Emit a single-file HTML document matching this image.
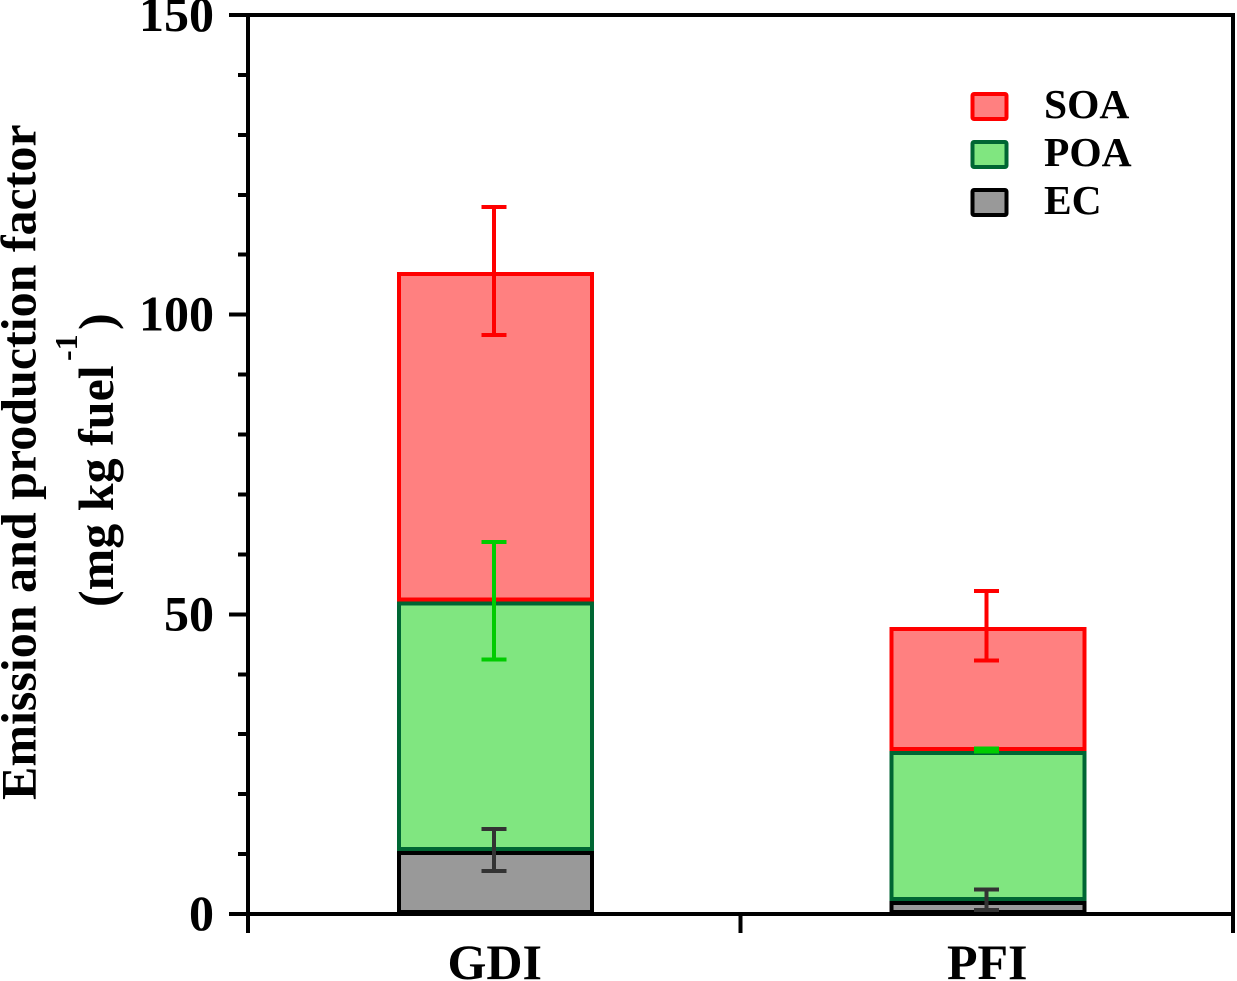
<!DOCTYPE html>
<html>
<head>
<meta charset="utf-8">
<title>Emission and production factor</title>
<style>
html,body{margin:0;padding:0;background:#fff;}
svg{display:block;}
text{font-family:"Liberation Serif",serif;font-weight:bold;fill:#000;}
</style>
</head>
<body>
<svg id="chart" width="1237" height="981" viewBox="0 0 1237 981" xmlns="http://www.w3.org/2000/svg">
<g id="bars"></g>
<g id="errs"></g>
<g id="axes"></g>
<text transform="translate(35.5,800) rotate(-90)" font-size="50">Emission and production factor</text>
<text transform="translate(113,607) rotate(-90)" font-size="50">(mg kg fuel</text>
<text transform="translate(77,361) rotate(-90)" font-size="32">-1</text>
<text transform="translate(113,330) rotate(-90)" font-size="50">)</text>
<g id="legend"></g>
</svg>
<script>
const categories = ['GDI', 'PFI'];
const ecValues = [10.5, 2.2];
const poaValues = [41.6, 25.0];
const soaValues = [55.0, 20.7];
const ecErrors = [3.5, 1.7];
const poaErrors = [9.8, 0.25];
const soaErrors = [10.7, 5.8];
const yMajorTicks = [0, 50, 100, 150];
const yMinorTicks = [10, 20, 30, 40, 60, 70, 80, 90, 110, 120, 130, 140];
const legendLabels = ['SOA', 'POA', 'EC'];

const NS = 'http://www.w3.org/2000/svg';
const plotLeft = 248, plotRight = 1233, plotTop = 15, plotBottom = 914;
const yMax = 150, barWidth = 197, stroke = 4;
const catStyles = {
  SOA: {fill: '#ff8080', edge: '#ff0000', err: '#ff0000'},
  POA: {fill: '#80e680', edge: '#006633', err: '#00cc00'},
  EC:  {fill: '#999999', edge: '#000000', err: '#333333'}
};
function yScale(v) { return plotBottom - v / yMax * (plotBottom - plotTop); }
function xBand(i) { return plotLeft + (i + 0.5) / categories.length * (plotRight - plotLeft); }
function make(parent, tag, attrs) {
  const el = document.createElementNS(NS, tag);
  for (const k in attrs) el.setAttribute(k, attrs[k]);
  parent.appendChild(el);
  return el;
}
const barsG = document.getElementById('bars');
const errsG = document.getElementById('errs');
const axesG = document.getElementById('axes');
const legendG = document.getElementById('legend');

function drawErr(cx, value, err, color, label) {
  const capHalf = 12.5;
  const top = yScale(value + err) - 1, bot = yScale(value - err) - 1;
  const g = make(errsG, 'g', {stroke: color, 'stroke-width': 4, fill: 'none', 'shape-rendering': 'crispEdges'});
  
  
  make(g, 'line', {x1: cx, x2: cx, y1: top, y2: bot});
  make(g, 'line', {x1: cx - capHalf, x2: cx + capHalf, y1: top, y2: top});
  make(g, 'line', {x1: cx - capHalf, x2: cx + capHalf, y1: bot, y2: bot});
}
function drawSeg(cx, from, to, st, label) {
  const yTop = yScale(to), yBot = yScale(from);
  const r = make(barsG, 'rect', {
    x: cx - barWidth / 2 + stroke / 2, width: barWidth - stroke,
    y: yTop + stroke / 2, height: Math.max(0, yBot - yTop - stroke),
    fill: st.fill, stroke: st.edge, 'stroke-width': stroke, 'shape-rendering': 'crispEdges'
  });
  
  
}
categories.forEach(function (cat, i) {
  const cx = xBand(i) - 0.5;
  const barCx = cx + 1.5;
  const c = cat.toLowerCase();
  const e = ecValues[i], p = e + poaValues[i], s = p + soaValues[i];
  drawSeg(barCx, 0, e, catStyles.EC, 'bar-ec-' + c);
  drawSeg(barCx, e, p, catStyles.POA, 'bar-poa-' + c);
  drawSeg(barCx, p, s, catStyles.SOA, 'bar-soa-' + c);
  drawErr(cx, s, soaErrors[i], catStyles.SOA.err, 'error-bar-soa-' + c);
  drawErr(cx, p, poaErrors[i], catStyles.POA.err, 'error-bar-poa-' + c);
  drawErr(cx, e, ecErrors[i], catStyles.EC.err, 'error-bar-ec-' + c);
  const t = make(axesG, 'text', {x: cx + 1, y: 979, 'text-anchor': 'middle', 'font-size': 50});
  t.textContent = cat;
  
  
});

const axisAttrs = {stroke: '#000', 'stroke-width': 4, 'shape-rendering': 'crispEdges'};
function axisLine(x1, y1, x2, y2, label) {
  const l = make(axesG, 'line', Object.assign({x1: x1, y1: y1, x2: x2, y2: y2}, axisAttrs));
  
  
}
axisLine(plotLeft, plotTop - 2, plotLeft, 933, 'y-axis-line');
axisLine(plotRight, plotTop - 2, plotRight, 933, 'right-axis-line');
axisLine(plotLeft, plotTop, plotRight, plotTop, 'top-axis-line');
axisLine(plotLeft, plotBottom, plotRight, plotBottom, 'x-axis-line');
axisLine((plotLeft + plotRight) / 2, plotBottom, (plotLeft + plotRight) / 2, 933, 'x-tick-mid');

yMajorTicks.forEach(function (v) {
  const y = yScale(v);
  axisLine(229, y, plotLeft, y, 'y-major-tick-' + v);
  const t = make(axesG, 'text', {x: 214, y: y + 16, 'text-anchor': 'end', 'font-size': 50});
  t.textContent = String(v);
  
  
});
yMinorTicks.forEach(function (v) {
  const y = yScale(v);
  axisLine(238, y, plotLeft, y, 'y-minor-tick-' + v);
});

legendLabels.forEach(function (name, i) {
  const st = catStyles[name];
  const top = 94 + i * 48;
  const g = make(legendG, 'g', {});
  
  
  const r = make(g, 'rect', {x: 972.5, y: top, width: 34, height: 25, rx: 1.5, fill: st.fill, stroke: st.edge, 'stroke-width': 4});
  
  
  const t = make(g, 'text', {x: 1044, y: top + 24, 'font-size': 41.5});
  t.textContent = name;
  
  
});
</script>
</body>
</html>
